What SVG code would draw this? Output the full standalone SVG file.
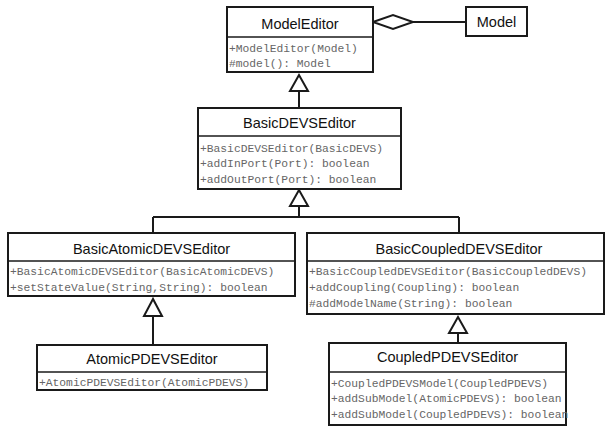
<svg xmlns="http://www.w3.org/2000/svg" width="606" height="427" viewBox="0 0 606 427">
<style>
.box{fill:#fff;stroke:#1a1a1a;stroke-width:2}
.div{stroke:#1a1a1a;stroke-width:1.5}
.name{font-family:"Liberation Sans",Arial,sans-serif;font-size:14.5px;fill:#111;text-anchor:middle}
.m{font-family:"Liberation Mono","Courier New",monospace;font-size:11.3px;fill:#666}
.ln{fill:none;stroke:#1a1a1a;stroke-width:2}
.tri{fill:#fff;stroke:#1a1a1a;stroke-width:2}
</style>
<rect width="606" height="427" fill="#fff"/>
<g id="connectors">
  <path class="ln" d="M413 22 H466"/>
  <polygon class="tri" points="373,22 393,15 413,22 393,29"/>
  <path class="ln" d="M299 91 V108"/>
  <polygon class="tri" points="299,75 290,91 308,91"/>
  <path class="ln" d="M299 206 V217 M153 217 H459 M153 217 V233 M459 217 V233"/>
  <polygon class="tri" points="299,190 290,206 308,206"/>
  <path class="ln" d="M153 316 V345"/>
  <polygon class="tri" points="153,299 144,316 162,316"/>
  <path class="ln" d="M458 333 V343"/>
  <polygon class="tri" points="458,317 449,333 467,333"/>
</g>
<g id="ModelEditor">
  <rect class="box" x="227" y="7" width="146" height="65"/>
  <line class="div" x1="227" y1="37" x2="373" y2="37"/>
  <text class="name" x="300" y="29">ModelEditor</text>
  <text class="m" x="229" y="52">+ModelEditor(Model)</text>
  <text class="m" x="229" y="67">#model(): Model</text>
</g>
<g id="Model">
  <rect class="box" x="466" y="7" width="61" height="29"/>
  <text class="name" x="496.5" y="27">Model</text>
</g>
<g id="BasicDEVSEditor">
  <rect class="box" x="198" y="108" width="203" height="81"/>
  <line class="div" x1="198" y1="136" x2="401" y2="136"/>
  <text class="name" x="299.5" y="128">BasicDEVSEditor</text>
  <text class="m" x="200" y="152">+BasicDEVSEditor(BasicDEVS)</text>
  <text class="m" x="200" y="167">+addInPort(Port): boolean</text>
  <text class="m" x="200" y="183">+addOutPort(Port): boolean</text>
</g>
<g id="BasicAtomicDEVSEditor">
  <rect class="box" x="8" y="233" width="287" height="63"/>
  <line class="div" x1="8" y1="261" x2="295" y2="261"/>
  <text class="name" x="151.5" y="254">BasicAtomicDEVSEditor</text>
  <text class="m" x="10" y="275">+BasicAtomicDEVSEditor(BasicAtomicDEVS)</text>
  <text class="m" x="10" y="291">+setStateValue(String,String): boolean</text>
</g>
<g id="BasicCoupledDEVSEditor">
  <rect class="box" x="307" y="233" width="297" height="81"/>
  <line class="div" x1="307" y1="261" x2="604" y2="261"/>
  <text class="name" x="459" y="254">BasicCoupledDEVSEditor</text>
  <text class="m" x="309" y="275">+BasicCoupledDEVSEditor(BasicCoupledDEVS)</text>
  <text class="m" x="309" y="291">+addCoupling(Coupling): boolean</text>
  <text class="m" x="309" y="307">#addModelName(String): boolean</text>
</g>
<g id="AtomicPDEVSEditor">
  <rect class="box" x="37" y="345" width="230" height="45"/>
  <line class="div" x1="37" y1="372" x2="267" y2="372"/>
  <text class="name" x="152" y="364">AtomicPDEVSEditor</text>
  <text class="m" x="39" y="386">+AtomicPDEVSEditor(AtomicPDEVS)</text>
</g>
<g id="CoupledPDEVSEditor">
  <rect class="box" x="329" y="343" width="237" height="82"/>
  <line class="div" x1="329" y1="372" x2="566" y2="372"/>
  <text class="name" x="447.5" y="362">CoupledPDEVSEditor</text>
  <text class="m" x="331" y="387">+CoupledPDEVSModel(CoupledPDEVS)</text>
  <text class="m" x="331" y="402">+addSubModel(AtomicPDEVS): boolean</text>
  <text class="m" x="331" y="418">+addSubModel(CoupledPDEVS): boolean</text>
</g>
</svg>
